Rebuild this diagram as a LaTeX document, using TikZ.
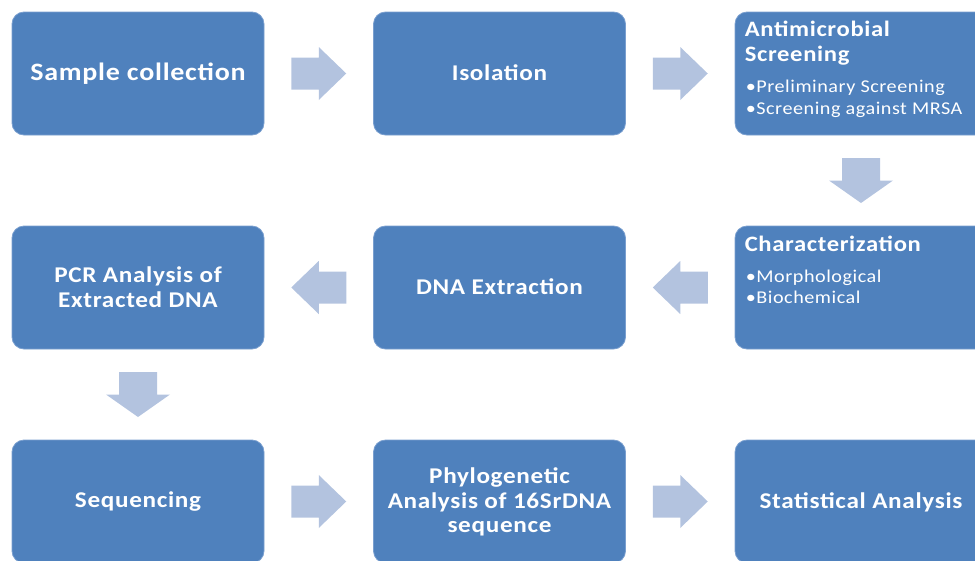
\documentclass[tikz,border=0pt]{standalone}
\usepackage{fontspec}
\setmainfont{Carlito}[FakeStretch=1.12, LetterSpace=3]
\usetikzlibrary{calc}
\definecolor{boxblue}{HTML}{4F81BD}
\definecolor{boxedge}{HTML}{7A9FCF}
\definecolor{arrblue}{HTML}{B3C3DF}
\tikzset{
  box/.style={draw=boxedge, line width=0.8pt, fill=boxblue, rounded corners=12pt,
    minimum width=252pt, minimum height=123pt, inner sep=0pt},
  boxtext/.style={text=white, font=\bfseries\fontsize{22.5}{24.5}\selectfont, align=center},
  titletext/.style={text=white, font=\bfseries\fontsize{22}{25}\selectfont, anchor=base west, inner sep=0pt},
  bullettext/.style={text=white, font=\fontsize{18}{22}\selectfont, anchor=base west, inner sep=0pt},
  blockarrow/.style={fill=arrblue, draw=none},
  rarr/.pic={\path[blockarrow] (-27.5,-16) -- (0,-16) -- (0,-26.5) -- (27.5,0) -- (0,26.5) -- (0,16) -- (-27.5,16) -- cycle;},
  larr/.pic={\path[blockarrow] (27.5,-16) -- (0,-16) -- (0,-26.5) -- (-27.5,0) -- (0,26.5) -- (0,16) -- (27.5,16) -- cycle;},
  darr/.pic={\path[blockarrow] (-19,-22.5) -- (19,-22.5) -- (19,0) -- (32,0) -- (0,22.5) -- (-32,0) -- (-19,0) -- cycle;},
}
\begin{document}
\begin{tikzpicture}[x=1pt, y=-1pt]
\useasboundingbox (0,0) rectangle (975,560);
\clip (0,0) rectangle (975,560);
% row 1
\node[box] (sample) at (138,73.5) {};
\node[boxtext, font=\bfseries\fontsize{25}{28}\selectfont] (sampleT) at (138,73.5) {Sample collection};
\node[box] (iso) at (499.5,73.5) {};
\node[boxtext] (isoT) at (499.5,72.5) {Isolation};
\node[box] (anti) at (861,73.5) {};
\node[titletext] (antiT1) at ($(anti.north west)+(10,25)$) {Antimicrobial};
\node[titletext] (antiT2) at ($(anti.north west)+(10,50)$) {Screening};
\node[bullettext] (antiB1) at ($(anti.north west)+(11,81)$) {•Preliminary Screening};
\node[bullettext] (antiB2) at ($(anti.north west)+(11,103)$) {•Screening against MRSA};
% row 2
\node[box] (pcr) at (138,287.5) {};
\node[boxtext] (pcrT) at (138,287) {PCR Analysis of\\Extracted DNA};
\node[box] (dna) at (499.5,287.5) {};
\node[boxtext] (dnaT) at (499.5,287) {DNA Extraction};
\node[box] (char) at (861,287.5) {};
\node[titletext] (charT) at ($(char.north west)+(10,26)$) {Characterization};
\node[bullettext] (charB1) at ($(char.north west)+(11,57)$) {•Morphological};
\node[bullettext] (charB2) at ($(char.north west)+(11,78)$) {•Biochemical};
% row 3
\node[box] (seq) at (138,501.5) {};
\node[boxtext] (seqT) at (138,502) {Sequencing};
\node[box] (phy) at (499.5,501.5) {};
\node[boxtext] (phyT) at (499.5,502) {Phylogenetic\\Analysis of 16SrDNA\\sequence};
\node[box] (stat) at (861,501.5) {};
\node[boxtext] (statT) at (861,502) {Statistical Analysis};
% arrows
\pic at ($(sample.east)!0.5!(iso.west)$) {rarr};
\pic at ($(iso.east)!0.5!(anti.west)$) {rarr};
\pic at ($(anti.south)!0.5!(char.north)$) {darr};
\pic at ($(char.west)!0.5!(dna.east)$) {larr};
\pic at ($(dna.west)!0.5!(pcr.east)$) {larr};
\pic at ($(pcr.south)!0.5!(seq.north)$) {darr};
\pic at ($(seq.east)!0.5!(phy.west)$) {rarr};
\pic at ($(phy.east)!0.5!(stat.west)$) {rarr};
\end{tikzpicture}
\end{document}
